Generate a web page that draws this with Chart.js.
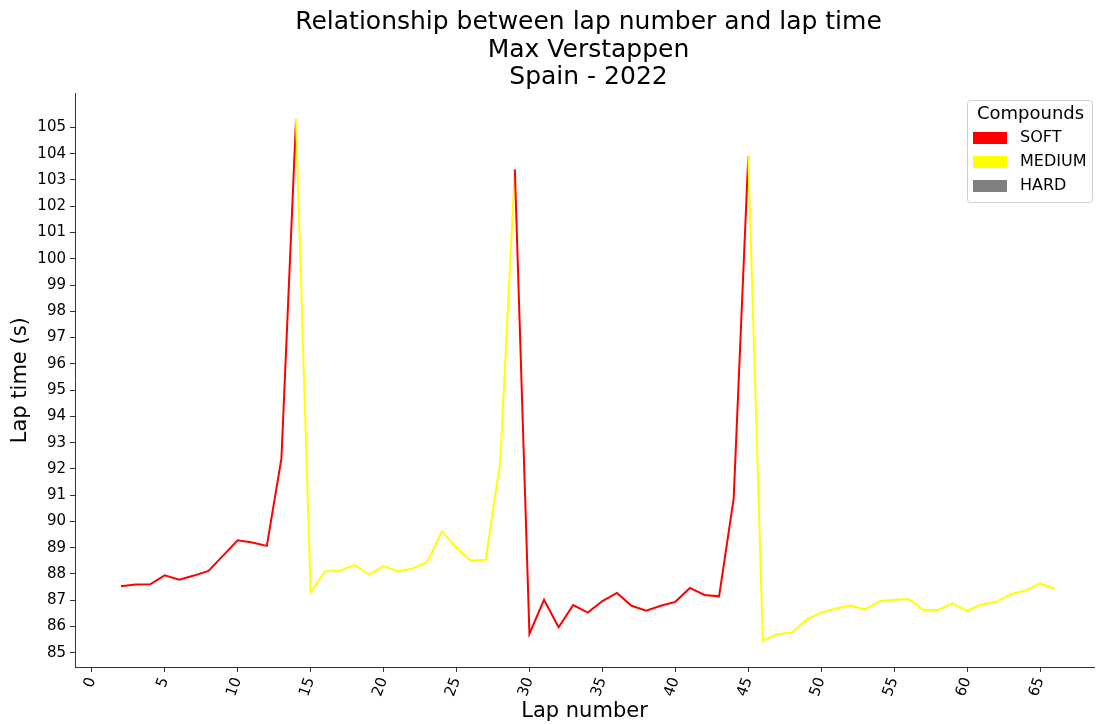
<!DOCTYPE html>
<html>
<head>
<meta charset="utf-8">
<title>Lap time vs lap number</title>
<script src="https://cdn.jsdelivr.net/npm/chart.js@4.4.0/dist/chart.umd.min.js"></script>
<style>
    html, body { margin: 0; padding: 0; background: #fff; overflow: hidden; }
    #wrap { width: 1096px; height: 724px; }
</style>
</head>
<body>
<div id="wrap"><canvas id="lapChart"></canvas></div>
<script>
// Lap data
const laps = [2, 3, 4, 5, 6, 7, 8, 9, 10, 11, 12, 13, 14, 15, 16, 17, 18, 19, 20, 21,
    22, 23, 24, 25, 26, 27, 28, 29, 30, 31, 32, 33, 34, 35, 36, 37, 38, 39, 40, 41,
    42, 43, 44, 45, 46, 47, 48, 49, 50, 51, 52, 53, 54, 55, 56, 57, 58, 59, 60, 61,
    62, 63, 64, 65, 66];
const lapTimes = [87.53, 87.60, 87.61, 87.95, 87.78, 87.94, 88.12, 88.70, 89.28, 89.20,
    89.07, 92.40, 105.29, 87.31, 88.11, 88.13, 88.35, 87.98, 88.30, 88.11,
    88.21, 88.46, 89.62, 89.00, 88.50, 88.54, 92.29, 103.40, 85.73, 87.02,
    85.97, 86.82, 86.53, 86.97, 87.28, 86.79, 86.60, 86.79, 86.94, 87.47,
    87.20, 87.15, 90.87, 103.90, 85.47, 85.71, 85.77, 86.27, 86.53, 86.69,
    86.80, 86.65, 86.96, 87.02, 87.05, 86.63, 86.63, 86.88, 86.60, 86.84,
    86.94, 87.23, 87.37, 87.64, 87.44];
const compounds = [
    'SOFT', 'SOFT', 'SOFT', 'SOFT', 'SOFT', 'SOFT', 'SOFT', 'SOFT', 'SOFT', 'SOFT', 'SOFT', 'SOFT', 'SOFT',
    'MEDIUM', 'MEDIUM', 'MEDIUM', 'MEDIUM', 'MEDIUM', 'MEDIUM', 'MEDIUM', 'MEDIUM', 'MEDIUM', 'MEDIUM',
    'MEDIUM', 'MEDIUM', 'MEDIUM', 'MEDIUM', 'MEDIUM',
    'SOFT', 'SOFT', 'SOFT', 'SOFT', 'SOFT', 'SOFT', 'SOFT', 'SOFT', 'SOFT', 'SOFT', 'SOFT', 'SOFT',
    'SOFT', 'SOFT', 'SOFT', 'SOFT',
    'MEDIUM', 'MEDIUM', 'MEDIUM', 'MEDIUM', 'MEDIUM', 'MEDIUM', 'MEDIUM', 'MEDIUM', 'MEDIUM', 'MEDIUM',
    'MEDIUM', 'MEDIUM', 'MEDIUM', 'MEDIUM', 'MEDIUM', 'MEDIUM', 'MEDIUM', 'MEDIUM', 'MEDIUM', 'MEDIUM', 'MEDIUM'
];
const legendNames = ['SOFT', 'MEDIUM', 'HARD'];
const compoundColors = { SOFT: '#ff0000', MEDIUM: '#ffff00', HARD: '#808080' };
const xTicks = [0, 5, 10, 15, 20, 25, 30, 35, 40, 45, 50, 55, 60, 65];
const yTicks = [85, 86, 87, 88, 89, 90, 91, 92, 93, 94, 95, 96, 97, 98, 99, 100, 101, 102, 103, 104, 105];

Chart.defaults.font.family = "'DejaVu Sans', sans-serif";
Chart.defaults.color = '#000';

// matplotlib style legend box in the upper right of the axes
const compoundLegend = {
    id: 'compoundLegend',
    afterLayout(chart) {
        // the original title is centred a little right of the visible axes
        chart.titleBlock.left += 4;
        chart.titleBlock.right += 4;
    },
    afterDraw(chart) {
        const ctx = chart.ctx;
        const x = 967, y = 100, w = 125, h = 102;
        ctx.save();
        ctx.fillStyle = 'rgba(255,255,255,0.8)';
        ctx.strokeStyle = '#d0d0d0';
        ctx.lineWidth = 1;
        ctx.beginPath();
        ctx.roundRect(x + 0.5, y + 0.5, w, h, 3);
        ctx.fill();
        ctx.stroke();

        ctx.fillStyle = '#000';
        ctx.textBaseline = 'middle';
        ctx.textAlign = 'center';
        ctx.font = "18px 'DejaVu Sans'";
        ctx.fillText('Compounds', x + w / 2 + 1, y + 14);

        ctx.textAlign = 'left';
        ctx.font = "16px 'DejaVu Sans'";
        legendNames.forEach((name, i) => {
            const cy = 138 + i * 24;
            ctx.fillStyle = compoundColors[name];
            ctx.fillRect(973, cy - 6, 34, 12);
            ctx.fillStyle = '#000';
            ctx.fillText(name, 1020, cy);
        });
        ctx.restore();
    }
};

const ctx = document.getElementById('lapChart').getContext('2d');
new Chart(ctx, {
    type: 'line',
    data: {
        datasets: [{
            label: 'Lap time',
            data: laps.map((lap, i) => ({ x: lap, y: lapTimes[i] })),
            borderWidth: 2,
            pointRadius: 0,
            tension: 0,
            borderColor: compoundColors.SOFT,
            segment: {
                borderColor: c => compoundColors[compounds[c.p1DataIndex]]
            }
        }]
    },
    options: {
        responsive: true,
        maintainAspectRatio: false,
        animation: false,
        devicePixelRatio: 1,
        layout: { padding: { left: 8, right: 2, top: 0, bottom: 0 } },
        scales: {
            x: {
                type: 'linear',
                min: -1.15,
                max: 68.7,
                afterBuildTicks: scale => { scale.ticks = xTicks.map(v => ({ value: v })); },
                afterFit: scale => { scale.height = 57; },
                ticks: {
                    minRotation: 70,
                    maxRotation: 70,
                    padding: 3,
                    font: { size: 15 },
                    color: '#000'
                },
                grid: { drawOnChartArea: false, tickLength: 5, tickColor: '#333' },
                border: { color: '#333', width: 1 },
                title: {
                    display: true,
                    text: 'Lap number',
                    font: { size: 21 },
                    color: '#000',
                    padding: 0
                }
            },
            y: {
                min: 84.46,
                max: 106.29,
                afterBuildTicks: scale => { scale.ticks = yTicks.map(v => ({ value: v })); },
                afterFit: scale => { scale.width = 67; },
                ticks: {
                    padding: 4,
                    font: { size: 15 },
                    color: '#000'
                },
                grid: { drawOnChartArea: false, tickLength: 5, tickColor: '#333' },
                border: { color: '#333', width: 1 },
                title: {
                    display: true,
                    text: 'Lap time (s)',
                    font: { size: 21 },
                    color: '#000',
                    padding: 0
                }
            }
        },
        plugins: {
            legend: { display: false },
            tooltip: { enabled: false },
            title: {
                display: true,
                fullSize: false,
                text: ['Relationship between lap number and lap time', 'Max Verstappen', 'Spain - 2022'],
                font: { size: 25, weight: 'normal', lineHeight: 1.1 },
                color: '#000',
                padding: { top: 9, bottom: 2 }
            }
        }
    },
    plugins: [compoundLegend]
});
</script>
</body>
</html>
